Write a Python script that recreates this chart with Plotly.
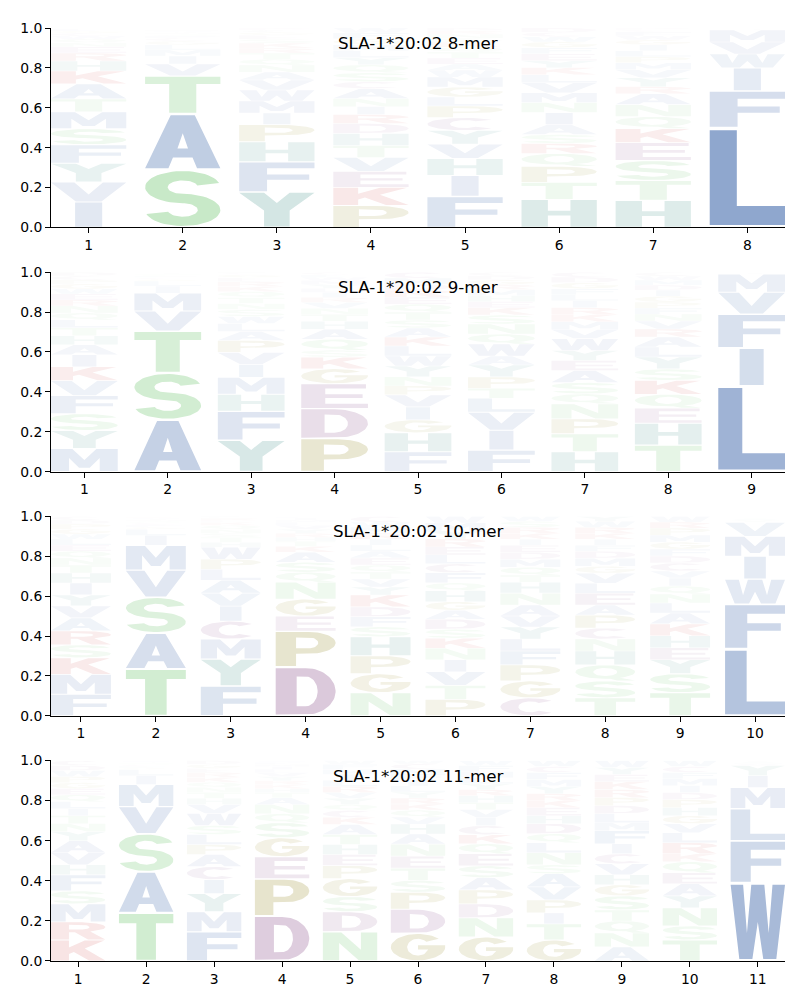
import numpy as np
import plotly.graph_objects as go

# ---------------- data (letters listed bottom -> top, heights = frequency) ----------------
titles = ["SLA-1*20:02 8-mer", "SLA-1*20:02 9-mer", "SLA-1*20:02 10-mer", "SLA-1*20:02 11-mer"]

letters8 = ["IVYFSMTAKHRENQWCGLPD", "SATVIMLGCFQNYWEKRHP", "YFHPIMWVANQTRKSEGCD",
            "PKEVTHDRINACSQYLMGFW", "FIHVYCPLGMWAETQKSNRD", "HTPQRSAINMVLKYEFGWCD",
            "HTSEKQNARYVMPLIGWFCD", "LFIWVMYAT"]
heights8 = [[.128, .10, .094, .093, .08, .085, .065, .075, .065, .05, .04, .03, .02, .02, .015, .015, .01, .01, .003, .002],
            [.29, .28, .19, .06, .04, .03, .025, .02, .015, .01, .008, .007, .006, .005, .004, .004, .003, .002, .001],
            [.178, .152, .10, .086, .058, .06, .055, .05, .04, .035, .03, .03, .025, .025, .02, .02, .015, .011, .01],
            [.111, .09, .08, .07, .06, .06, .05, .045, .04, .04, .05, .035, .045, .04, .035, .035, .03, .03, .03, .024],
            [.156, .105, .085, .072, .068, .065, .058, .045, .05, .05, .035, .03, .03, .03, .025, .025, .02, .02, .016, .015],
            [.141, .085, .08, .065, .05, .045, .05, .06, .05, .05, .05, .04, .035, .035, .035, .03, .03, .025, .022, .022],
            [.136, .10, .10, .09, .07, .06, .06, .055, .035, .045, .04, .035, .03, .03, .03, .025, .02, .02, .01, .009],
            [.50, .185, .115, .07, .06, .06, .004, .003, .003]]

letters9 = ["MYSFVKIAHTLQNREWGPCD", "ASTVMILGCFQNYWK", "YFHMIVPALWSNTQKREGCD",
            "PDEGKSQAHTNVRILYMWFC", "FHGIVPNYWLKASTQERDMC", "FIVLTPYAWQNSKEHMRGDC",
            "HTPNQSAEYWVMKRILFGDC", "THEQKSYLARVNFPGIDMWC", "LIFVMYWA"]
heights9 = [[.116, .09, .085, .09, .075, .07, .06, .05, .045, .04, .04, .035, .035, .03, .03, .025, .025, .02, .02, .019],
            [.26, .235, .21, .10, .09, .035, .025, .01, .008, .007, .005, .005, .004, .003, .003],
            [.158, .145, .085, .085, .065, .06, .06, .045, .04, .035, .035, .03, .03, .03, .025, .025, .02, .015, .007, .005],
            [.166, .15, .125, .075, .058, .035, .055, .05, .04, .035, .03, .03, .025, .025, .02, .02, .02, .015, .013, .013],
            [.10, .095, .065, .065, .06, .045, .045, .055, .05, .05, .045, .045, .04, .04, .04, .035, .035, .03, .03, .03],
            [.108, .10, .09, .07, .05, .057, .06, .045, .06, .05, .05, .045, .037, .03, .03, .03, .025, .025, .02, .018],
            [.10, .09, .075, .075, .05, .057, .06, .05, .05, .06, .045, .04, .035, .035, .035, .03, .03, .03, .028, .025],
            [.133, .11, .075, .07, .07, .057, .06, .05, .05, .04, .04, .035, .03, .03, .03, .03, .025, .025, .02, .02],
            [.43, .19, .17, .11, .09, .004, .003, .003]]

letters10 = ["FMKSRAVYIHTNQELWGPDC", "TASVMILGFCQNYWKE", "FYMCIVALPWHTSNQKERGD",
             "DPEGNQSAKTHRYVLMIFWC", "NGPHSFDKYVTQEALIRMWC", "PTVINKSDAGHQFCLERYMW",
             "CGPFLYVANHTQMDEIKRSW", "TSQHNCPAELVGMDFIKRWY", "TSYEHKALNQIVCDFGMPRW", "LFWIMVYATC"]
heights10 = [[.108, .10, .083, .065, .07, .065, .06, .055, .06, .05, .04, .035, .035, .03, .03, .025, .025, .025, .02, .019],
             [.235, .18, .18, .135, .125, .05, .03, .012, .01, .01, .008, .007, .006, .005, .004, .003],
             [.15, .135, .10, .09, .075, .065, .065, .055, .05, .06, .025, .025, .02, .02, .02, .015, .01, .01, .005, .005],
             [.245, .18, .075, .085, .085, .05, .05, .05, .03, .025, .02, .02, .02, .02, .015, .01, .01, .005, .003, .002],
             [.116, .095, .09, .095, .05, .05, .05, .06, .04, .04, .035, .035, .035, .035, .03, .03, .03, .03, .025, .029],
             [.083, .07, .068, .06, .058, .05, .045, .05, .045, .043, .055, .04, .05, .045, .045, .04, .04, .04, .04, .033],
             [.09, .085, .08, .07, .06, .06, .055, .055, .06, .055, .035, .04, .04, .035, .035, .03, .03, .03, .03, .025],
             [.09, .085, .08, .07, .06, .055, .065, .05, .06, .05, .05, .035, .04, .035, .03, .03, .03, .03, .03, .025],
             [.116, .095, .07, .06, .06, .06, .055, .05, .045, .04, .04, .035, .04, .035, .035, .035, .035, .035, .03, .029],
             [.335, .225, .125, .115, .10, .07, .01, .008, .006, .006]]

letters11 = ["KRMSFHVAYNTILQEGPWDC", "TASVMILGFCQNYWE", "FMYICAPLSWVHTNQKREGD",
             "DPEGSQNATHKRYVLIMFWC", "NDSGPEHTAKCQYVRLIMFW", "GDPSTENAHVQKRYLIFMCW",
             "GNDPASEQKCIVTHRYLMFW", "GTIPVASNLQDHEKRYMFCW", "ANQTSGHVCIFMLDPRKEYW",
             "TSNYAEQKRLVGHPDIMFCW", "WFLMIYVAT"]
heights11 = [[.105, .09, .09, .065, .08, .05, .06, .06, .045, .04, .04, .035, .035, .035, .03, .03, .03, .03, .025, .025],
             [.24, .205, .19, .135, .11, .045, .03, .008, .008, .007, .006, .005, .004, .004, .003],
             [.146, .10, .09, .07, .065, .06, .05, .05, .045, .06, .045, .03, .03, .025, .025, .025, .025, .02, .02, .019],
             [.225, .185, .11, .095, .075, .045, .045, .035, .025, .02, .02, .02, .02, .02, .015, .015, .01, .01, .005, .005],
             [.146, .10, .075, .09, .065, .055, .05, .05, .05, .035, .035, .03, .03, .03, .03, .03, .03, .025, .025, .019],
             [.138, .12, .085, .06, .06, .06, .06, .05, .05, .035, .035, .03, .03, .03, .03, .03, .03, .025, .025, .017],
             [.12, .095, .07, .07, .06, .06, .06, .05, .045, .045, .04, .04, .035, .035, .03, .03, .03, .03, .03, .025],
             [.105, .08, .055, .065, .065, .065, .045, .06, .05, .045, .05, .04, .04, .035, .035, .035, .035, .035, .03, .03],
             [.07, .07, .06, .055, .07, .055, .05, .055, .05, .05, .065, .04, .045, .04, .04, .04, .04, .035, .035, .035],
             [.105, .07, .09, .06, .06, .055, .055, .04, .055, .05, .045, .04, .04, .04, .035, .035, .035, .03, .03, .03],
             [.39, .21, .16, .105, .06, .05, .01, .008, .007]]

motifs = [(letters8, heights8), (letters9, heights9), (letters10, heights10), (letters11, heights11)]

# ---------------- style ----------------
group_colors = {
    "blue": (76, 114, 176), "green": (102, 194, 102), "purple": (136, 78, 139),
    "olive": (150, 140, 40), "red": (200, 50, 50), "teal": (60, 141, 132),
}
letter_group = {}
for c in "AVLIMFW": letter_group[c] = "blue"
for c in "STNQ": letter_group[c] = "green"
for c in "DEC": letter_group[c] = "purple"
for c in "PG": letter_group[c] = "olive"
for c in "KR": letter_group[c] = "red"
for c in "HY": letter_group[c] = "teal"

LETTER_W = 0.8
VPAD = 0.05


def arc(cx, cy, rx, ry, a0, a1, n=24):
    t = np.radians(np.linspace(a0, a1, n))
    return [(cx + rx * np.cos(v), cy + ry * np.sin(v)) for v in t]


def ring(cx, cy, rxo, ryo, rxi, ryi, a0, a1):
    return arc(cx, cy, rxo, ryo, a0, a1, 40) + arc(cx, cy, rxi, ryi, a1, a0, 40)


def make_glyphs():
    g = {}
    g["L"] = ([[(0, 0), (1, 0), (1, .2), (.36, .2), (.36, 1), (0, 1)]], [])
    g["I"] = ([[(.32, 0), (.68, 0), (.68, 1), (.32, 1)]], [])
    g["F"] = ([[(0, 0), (.37, 0), (.37, .4), (.93, .4), (.93, .58), (.37, .58), (.37, .8), (1, .8), (1, 1), (0, 1)]], [])
    g["E"] = ([[(0, 0), (1, 0), (1, .18), (.36, .18), (.36, .42), (.92, .42), (.92, .58), (.36, .58),
                (.36, .82), (.97, .82), (.97, 1), (0, 1)]], [])
    g["T"] = ([[(.32, 0), (.68, 0), (.68, .8), (1, .8), (1, 1), (0, 1), (0, .8), (.32, .8)]], [])
    g["H"] = ([[(0, 0), (.35, 0), (.35, .42), (.65, .42), (.65, 0), (1, 0), (1, 1), (.65, 1), (.65, .6),
                (.35, .6), (.35, 1), (0, 1)]], [])
    g["M"] = ([[(0, 0), (.27, 0), (.27, .6), (.42, .15), (.58, .15), (.73, .6), (.73, 0), (1, 0), (1, 1),
                (.68, 1), (.5, .5), (.32, 1), (0, 1)]], [])
    g["N"] = ([[(0, 0), (.3, 0), (.3, .62), (.66, 0), (1, 0), (1, 1), (.7, 1), (.7, .38), (.34, 1), (0, 1)]], [])
    g["W"] = ([[(0, 1), (.16, 0), (.4, 0), (.5, .5), (.6, 0), (.84, 0), (1, 1), (.77, 1), (.7, .35),
                (.62, 1), (.38, 1), (.3, .35), (.23, 1)]], [])
    g["V"] = ([[(0, 1), (.33, 0), (.67, 0), (1, 1), (.69, 1), (.5, .36), (.31, 1)]], [])
    g["Y"] = ([[(0, 1), (.33, .48), (.33, 0), (.67, 0), (.67, .48), (1, 1), (.67, 1), (.5, .7), (.33, 1)]], [])
    g["K"] = ([[(0, 0), (.33, 0), (.33, .32), (.42, .43), (.7, 0), (1, 0), (.62, .6), (.98, 1), (.62, 1),
                (.33, .65), (.33, 1), (0, 1)]], [])
    g["A"] = ([[(0, 0), (.31, 0), (.37, .2), (.63, .2), (.69, 0), (1, 0), (.66, 1), (.34, 1)]],
              [[(.43, .37), (.57, .37), (.5, .66)]])
    g["Q"] = ([arc(.5, .56, .5, .44, 0, 360, 60), [(.5, .2), (.72, .2), (1, 0), (.7, 0)]],
              [arc(.5, .56, .2, .27, 0, 360, 60)])
    g["C"] = ([ring(.5, .5, .5, .5, .2, .32, 45, 315)], [])
    g["G"] = ([arc(.5, .5, .5, .5, 40, 355, 50) + [(1, .57), (.5, .57), (.5, .41), (.69, .41)]
               + arc(.5, .5, .2, .32, 345, 40, 40)], [])
    g["D"] = ([[(0, 0), (.5, 0)] + arc(.5, .5, .5, .5, -90, 90, 40) + [(0, 1)]],
              [[(.35, .18), (.5, .18)] + arc(.5, .5, .2, .32, -90, 90, 30) + [(.35, .82)]])
    g["P"] = ([[(0, 0), (.34, 0), (.34, .36), (.55, .36)] + arc(.55, .68, .45, .32, -90, 90, 30) + [(0, 1)]],
              [[(.34, .52), (.55, .52)] + arc(.55, .68, .16, .16, -90, 90, 20) + [(.34, .84)]])
    g["R"] = ([[(0, 0), (.33, 0), (.33, .42), (.44, .42), (.68, 0), (1, 0), (.72, .47)]
               + arc(.55, .72, .45, .28, -35, 90, 30) + [(0, 1)]],
              [[(.33, .58), (.55, .58)] + arc(.55, .72, .16, .14, -90, 90, 20) + [(.33, .86)]])
    t = 0.17
    R = (1 + t) / 4
    r = R - t
    cu, cl = 1 - R, R
    g["S"] = ([arc(.5, cu, .5, R, 15, 270, 40) + arc(.5, cl, .2, r, 90, -165, 40)
               + arc(.5, cl, .5, R, -165, 90, 40) + arc(.5, cu, .2, r, 270, 15, 40)], [])
    return g


GLYPHS = make_glyphs()


def orient(pts, ccw):
    x = np.array([p[0] for p in pts])
    y = np.array([p[1] for p in pts])
    area = 0.5 * np.sum(x * np.roll(y, -1) - np.roll(x, -1) * y)
    if (area > 0) != ccw:
        pts = pts[::-1]
    return pts


def blend(base, a):
    return "rgb(%d,%d,%d)" % tuple(round(255 - a * (255 - c)) for c in base)


fig = go.Figure()
domains = [(0.7862, 1.0), (0.5245, 0.7383), (0.2628, 0.4766), (0.0, 0.2149)]
font = dict(family="DejaVu Sans", size=13.9, color="black")

for k, (letters, heights) in enumerate(motifs):
    ax = "" if k == 0 else str(k + 1)
    for p, (seq, hs) in enumerate(zip(letters, heights)):
        pos = p + 1
        y0 = 0.0
        for ch, h in zip(seq, hs):
            outers, holes = GLYPHS[ch]
            pad = VPAD * h / 2
            xs, ys = [], []
            for cont, ccw in [(c, True) for c in outers] + [(c, False) for c in holes]:
                cont = orient(list(cont), ccw)
                for gx, gy in cont + [cont[0]]:
                    xs.append(pos - LETTER_W / 2 + gx * LETTER_W)
                    ys.append(y0 + pad + gy * (h - 2 * pad))
                xs.append(None)
                ys.append(None)
            a = min(1.0, 1.25 * h)
            fig.add_trace(go.Scatter(x=xs, y=ys, mode="lines", fill="toself",
                                     fillcolor=blend(group_colors[letter_group[ch]], a),
                                     line=dict(width=0), hoverinfo="skip", showlegend=False,
                                     xaxis="x" + ax, yaxis="y" + ax))
            y0 += h
    n = len(letters)
    fig.layout["xaxis" + ax] = dict(domain=[0, 1], range=[0.6, n + 0.4], anchor="y" + ax,
                                    tickvals=list(range(1, n + 1)), showline=True, linecolor="black",
                                    linewidth=1, ticks="outside", ticklen=5, tickcolor="black",
                                    showgrid=False, zeroline=False, tickfont=font, fixedrange=True)
    fig.layout["yaxis" + ax] = dict(domain=list(domains[k]), range=[0, 1], anchor="x" + ax,
                                    tickvals=[0, 0.2, 0.4, 0.6, 0.8, 1.0],
                                    ticktext=["0.0", "0.2", "0.4", "0.6", "0.8", "1.0"],
                                    showline=True, linecolor="black", linewidth=1, ticks="outside",
                                    ticklen=5, tickcolor="black", showgrid=False, zeroline=False,
                                    tickfont=font, fixedrange=True)
    fig.add_annotation(text=titles[k], xref="x%s domain" % ax, yref="y%s domain" % ax,
                       x=0.5, y=0.925, xanchor="center", yanchor="middle", showarrow=False,
                       font=dict(family="DejaVu Sans", size=16.7, color="black"))

# the page adds an 8 px body margin, so margins are offset to land the axes where the reference has them
fig.update_layout(width=800, height=1000, margin=dict(l=39, r=23, t=13, b=47),
                  plot_bgcolor="white", paper_bgcolor="white")
fig.write_html("out.html")
